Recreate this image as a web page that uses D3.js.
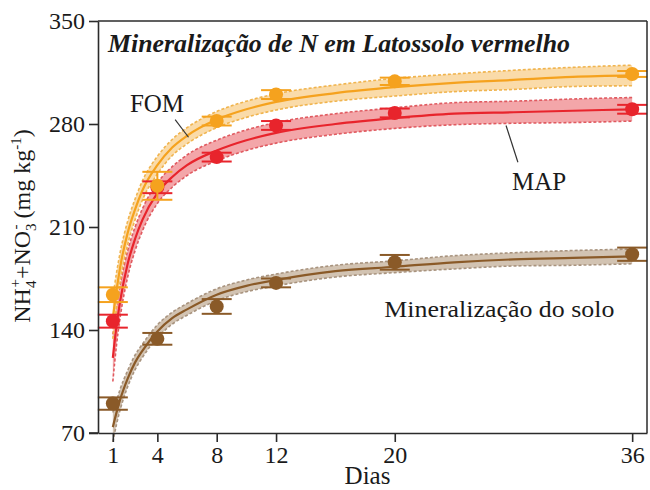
<!DOCTYPE html>
<html>
<head>
<meta charset="utf-8">
<script src="https://cdn.jsdelivr.net/npm/d3@7"></script>
<style>
  html, body { margin: 0; padding: 0; background: #fff; }
  svg { display: block; }
  text { font-family: "Liberation Serif", "Times New Roman", serif; fill: #1a1a1a; }
</style>
</head>
<body>
<svg id="chart" width="650" height="490"></svg>
<script>
// ---- data ----
const days = [1, 4, 8, 12, 20, 36];
const fomMean = [164, 238, 282, 300, 309, 314];
const fomErr = [5, 9.5, 3, 3, 2.5, 2];
const mapMean = [146, 237, 257.5, 279, 287.5, 290];
const mapErr = [4.4, 4, 3, 3, 3, 3];
const soloMean = [90, 134, 156, 172, 186, 191.5];
const soloErr = [4.2, 4, 5, 3, 5, 4.5];

// fitted curves
const curveDays = [1, 1.25, 1.5, 2, 2.5, 3, 4, 5, 6, 8, 10, 12, 16, 20, 24, 28, 32, 36];
const fomCurve  = [148, 167, 183, 206, 222, 235, 252, 264, 272, 283, 290, 295, 301, 305, 308, 310, 312, 313];
const mapCurve  = [121, 143, 160, 185, 202, 215, 233, 244, 252, 262, 269, 274, 280, 284, 287, 288, 289, 290];
const soloCurve = [74, 84, 93, 107, 118, 126, 139, 148, 154, 164, 170, 174, 180, 183, 186, 188, 189, 190];
// confidence band half-widths
const fomBand  = [14, 12, 10, 8, 7, 6.5, 6, 5.5, 5.5, 5.5, 5.5, 5.5, 5.5, 6, 6, 6.5, 6.5, 7];
const mapBand  = [16, 13, 11, 9, 8, 7.5, 7, 7, 7, 7, 7, 7, 7, 7, 7.5, 7.5, 8, 8];
const soloBand = [10, 8, 7, 5.5, 5, 4.5, 4.5, 4, 4, 4, 4, 4, 4, 4, 4.5, 4.5, 5, 5];

const xTicks = [1, 4, 8, 12, 20, 36];
const yTicks = [70, 140, 210, 280, 350];

const title = "Mineralização de N em Latossolo vermelho";
const xLabel = "Dias";
const seriesNames = ["Mineralização do solo", "MAP", "FOM"];

// ---- layout ----
const svg = d3.select("#chart");
const L = 98, R = 647, T = 21, B = 433;
const x = d3.scaleLinear().domain([0, 37]).range([L, R]);
const y = d3.scaleLinear().domain([70, 350]).range([B, T]);

const series = [
  {name: seriesNames[0], mean: soloMean, err: soloErr, curve: soloCurve, band: soloBand,
   col: "#8a5a28", bandFill: "#cdbcaa", bandEdge: "#a8937e"},
  {name: seriesNames[1], mean: mapMean, err: mapErr, curve: mapCurve, band: mapBand,
   col: "#e8242c", bandFill: "#f29ca0", bandEdge: "#e05a60"},
  {name: seriesNames[2], mean: fomMean, err: fomErr, curve: fomCurve, band: fomBand,
   col: "#f5a21e", bandFill: "#f9d7a0", bandEdge: "#f0b44e"}
];

const gPlot = svg.append("g");

series.forEach(s => {
  const pts = curveDays.map((d, i) => ({d, v: s.curve[i], h: s.band[i]}));
  const area = d3.area().curve(d3.curveMonotoneX)
    .x(p => x(p.d)).y0(p => y(p.v - p.h)).y1(p => y(p.v + p.h));
  gPlot.append("path").datum(pts).attr("d", area)
    .attr("fill", s.bandFill).attr("opacity", 0.9);
  const up = d3.line().curve(d3.curveMonotoneX).x(p => x(p.d)).y(p => y(p.v + p.h));
  const lo = d3.line().curve(d3.curveMonotoneX).x(p => x(p.d)).y(p => y(p.v - p.h));
  [up, lo].forEach(fn => gPlot.append("path").datum(pts).attr("d", fn)
    .attr("fill", "none").attr("stroke", s.bandEdge).attr("stroke-width", 1.6)
    .attr("stroke-dasharray", "3,2"));
  const line = d3.line().curve(d3.curveMonotoneX).x(p => x(p.d)).y(p => y(p.v));
  gPlot.append("path").datum(pts).attr("d", line)
    .attr("fill", "none").attr("stroke", s.col).attr("stroke-width", 2.2);
});

series.forEach(s => {
  const g = gPlot.append("g");
  days.forEach((d, i) => {
    const cx = x(d), m = s.mean[i], e = s.err[i];
    g.append("line").attr("x1", cx).attr("x2", cx).attr("y1", y(m - e)).attr("y2", y(m + e))
      .attr("stroke", s.col).attr("stroke-width", 2);
    [m - e, m + e].forEach(v => g.append("line")
      .attr("x1", cx - 15).attr("x2", cx + 15).attr("y1", y(v)).attr("y2", y(v))
      .attr("stroke", s.col).attr("stroke-width", 2));
    g.append("circle").attr("cx", cx).attr("cy", y(m)).attr("r", 7).attr("fill", s.col);
  });
});

// ---- frame & axes ----
const axCol = "#2b2b2b";
svg.append("line").attr("x1", L).attr("x2", R).attr("y1", T).attr("y2", T).attr("stroke", axCol).attr("stroke-width", 1.5);
svg.append("line").attr("x1", R).attr("x2", R).attr("y1", T).attr("y2", B).attr("stroke", axCol).attr("stroke-width", 1.5);

const yAxis = svg.append("g").attr("transform", `translate(${L},0)`)
  .call(d3.axisLeft(y).tickValues(yTicks).tickSize(9).tickPadding(4).tickSizeOuter(0));
const xAxis = svg.append("g").attr("transform", `translate(0,${B})`)
  .call(d3.axisBottom(x).tickValues(xTicks).tickSize(9).tickPadding(4).tickSizeOuter(0));
[yAxis, xAxis].forEach(a => {
  a.select(".domain").attr("stroke", axCol).attr("stroke-width", 1.6);
  a.selectAll(".tick line").attr("stroke", axCol).attr("stroke-width", 1.6);
  a.selectAll(".tick text").attr("font-family", "Liberation Serif, Times New Roman, serif")
    .attr("font-size", 24).attr("fill", "#1a1a1a");
});
// extend bottom axis to the left under the 70 tick
svg.append("line").attr("x1", L - 9).attr("x2", L).attr("y1", B).attr("y2", B).attr("stroke", axCol).attr("stroke-width", 1.6);

// axis titles
svg.append("text").attr("x", (L + R) / 2 - 5).attr("y", 484).attr("text-anchor", "middle")
  .attr("font-size", 25).text(xLabel);

const yl = svg.append("text").attr("transform", "translate(30,226) rotate(-90)")
  .attr("text-anchor", "middle").attr("font-size", 24);
yl.append("tspan").text("NH");
yl.append("tspan").attr("font-size", 15).attr("dy", 6).text("4");
yl.append("tspan").attr("font-size", 15).attr("dx", -7).attr("dy", -16).text("+");
yl.append("tspan").attr("dy", 10).text("+NO");
yl.append("tspan").attr("font-size", 15).attr("dy", 6).text("3");
yl.append("tspan").attr("font-size", 15).attr("dx", -6).attr("dy", -16).text("-");
yl.append("tspan").attr("dy", 10).text(" (mg kg");
yl.append("tspan").attr("font-size", 15).attr("dy", -9).text("-1");
yl.append("tspan").attr("dy", 9).text(")");

// title
svg.append("text").attr("x", 108).attr("y", 52)
  .attr("font-size", 25).attr("font-weight", "bold").attr("font-style", "italic")
  .attr("textLength", 462).attr("lengthAdjust", "spacingAndGlyphs").text(title);

// series labels with leader lines
svg.append("text").attr("x", x(2.15)).attr("y", y(288)).attr("font-size", 25).text(seriesNames[2]);
svg.append("line").attr("x1", x(5.2)).attr("y1", y(283)).attr("x2", x(6.1)).attr("y2", y(271))
  .attr("stroke", "#333").attr("stroke-width", 1.2);
svg.append("text").attr("x", x(27.9)).attr("y", y(235)).attr("font-size", 25).text(seriesNames[1]);
svg.append("line").attr("x1", x(27.5)).attr("y1", y(279)).attr("x2", x(28.3)).attr("y2", y(254))
  .attr("stroke", "#333").attr("stroke-width", 1.2);
svg.append("text").attr("x", x(19.3)).attr("y", y(149)).attr("font-size", 24)
  .attr("textLength", 230).attr("lengthAdjust", "spacingAndGlyphs").text(seriesNames[0]);
</script>
</body>
</html>
